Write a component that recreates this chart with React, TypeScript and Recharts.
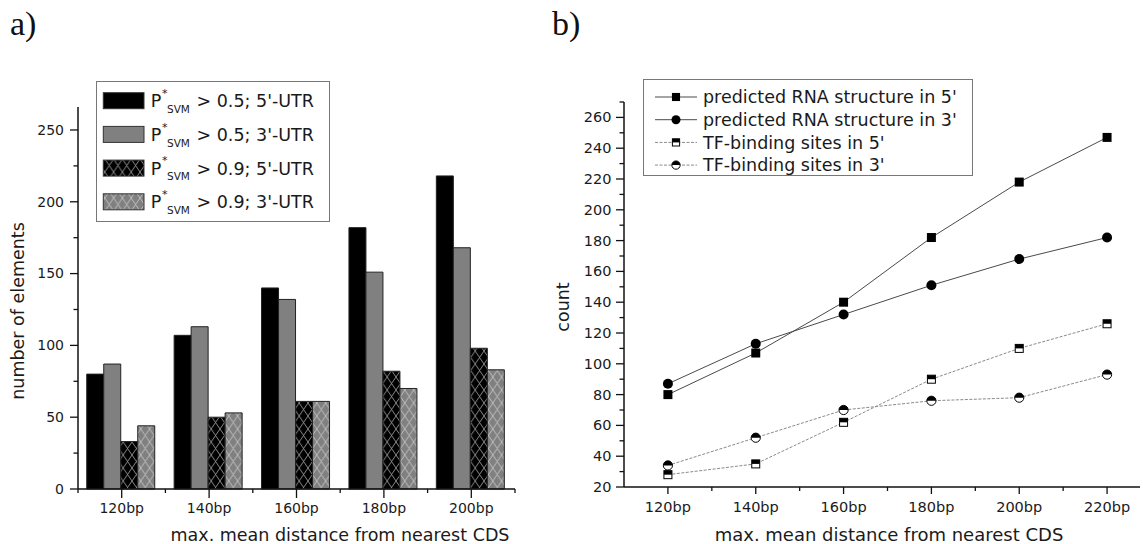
import React from 'react';
import { BarChart, Bar, XAxis, YAxis, LineChart, Line, Legend } from 'recharts';

const FONT = "'DejaVu Sans', 'Noto Sans', sans-serif";
const INK = '#1a1a1a';

// ---------- panel a) data ----------
const categories = ['120bp', '140bp', '160bp', '180bp', '200bp'];
const p05utr5 = [80, 107, 140, 182, 218];
const p05utr3 = [87, 113, 132, 151, 168];
const p09utr5 = [33, 50, 61, 82, 98];
const p09utr3 = [44, 53, 61, 70, 83];
const barThresholds = ['0.5', '0.5', '0.9', '0.9'];
const barRegions = ["5'-UTR", "3'-UTR", "5'-UTR", "3'-UTR"];
const leftYTicks = [0, 25, 50, 75, 100, 125, 150, 175, 200, 225, 250];

// ---------- panel b) data ----------
const distances = [120, 140, 160, 180, 200, 220];
const rna5 = [80, 107, 140, 182, 218, 247];
const rna3 = [87, 113, 132, 151, 168, 182];
const tf5 = [28, 35, 62, 90, 110, 126];
const tf3 = [34, 52, 70, 76, 78, 93];
const lineNames = [
  "predicted RNA structure in 5'",
  "predicted RNA structure in 3'",
  "TF-binding sites in 5'",
  "TF-binding sites in 3'",
];
const rightYTicks = [20, 30, 40, 50, 60, 70, 80, 90, 100, 110, 120, 130, 140, 150, 160, 170, 180, 190, 200, 210, 220, 230, 240, 250, 260, 270];
const rightXTicks = [120, 130, 140, 150, 160, 170, 180, 190, 200, 210, 220];

const barData = categories.map((c, i) => ({
  cat: c,
  a: p05utr5[i],
  b: p05utr3[i],
  c: p09utr5[i],
  d: p09utr3[i],
}));

const lineData = distances.map((d, i) => ({
  dist: d,
  rna5: rna5[i],
  rna3: rna3[i],
  tf5: tf5[i],
  tf3: tf3[i],
}));

const barKeys = ['a', 'b', 'c', 'd'];
const barFills = ['#000000', '#808080', 'url(#hatchBlack)', 'url(#hatchGray)'];
const lineKeys = ['rna5', 'rna3', 'tf5', 'tf3'];
const lineKinds = ['square', 'circle', 'halfSquare', 'halfCircle'];
const lineStrokes = ['#4a4a4a', '#4a4a4a', '#8a8a8a', '#8a8a8a'];
const lineDash = [undefined, undefined, '3 1.5', '3 1.5'];

// ---------- ticks ----------
const LY_SIZE = 8;
const LY_MARGIN = 6;
function LeftYTick(props: any) {
  const { x, y, payload } = props;
  const ax = x + LY_SIZE + LY_MARGIN;
  const major = payload.value % 50 === 0;
  return (
    <g>
      <line x1={ax - (major ? 8 : 4.5)} x2={ax} y1={y} y2={y} stroke="#111" strokeWidth={1.3} />
      {major && (
        <text x={x} y={y} dy="0.35em" textAnchor="end" fontSize={14} fill={INK} fontFamily={FONT}>
          {payload.value}
        </text>
      )}
    </g>
  );
}

const LX_SIZE = 8;
const LX_MARGIN = 4;
function LeftXTick(props: any) {
  const { x, y, payload, index, visibleTicksCount } = props;
  const ay = y - LX_SIZE - LX_MARGIN;
  const half = payload.offset ?? 0;
  return (
    <g>
      <line x1={x} x2={x} y1={ay} y2={ay + 9} stroke="#111" strokeWidth={1.3} />
      <line x1={x - half} x2={x - half} y1={ay} y2={ay + 4} stroke="#111" strokeWidth={1.3} />
      {index === visibleTicksCount - 1 && (
        <line x1={x + half} x2={x + half} y1={ay} y2={ay + 4} stroke="#111" strokeWidth={1.3} />
      )}
      <text x={x} y={ay + 19} dy="0.35em" textAnchor="middle" fontSize={14} fill={INK} fontFamily={FONT}>
        {payload.value}
      </text>
    </g>
  );
}

const RY_SIZE = 8;
const RY_MARGIN = 4.5;
function RightYTick(props: any) {
  const { x, y, payload } = props;
  const ax = x + RY_SIZE + RY_MARGIN;
  const major = payload.value % 20 === 0;
  return (
    <g>
      <line x1={ax - (major ? 8 : 4.5)} x2={ax} y1={y} y2={y} stroke="#111" strokeWidth={1.3} />
      {major && (
        <text x={x} y={y} dy="0.35em" textAnchor="end" fontSize={14.5} fill={INK} fontFamily={FONT}>
          {payload.value}
        </text>
      )}
    </g>
  );
}

const RX_SIZE = 7;
const RX_MARGIN = 4;
function RightXTick(props: any) {
  const { x, y, payload } = props;
  const ay = y - RX_SIZE - RX_MARGIN;
  const major = (payload.value - 120) % 20 === 0;
  return (
    <g>
      <line x1={x} x2={x} y1={ay} y2={ay + (major ? 7 : 4)} stroke="#111" strokeWidth={1.3} />
      {major && (
        <text x={x} y={ay + 19.5} dy="0.35em" textAnchor="middle" fontSize={14.5} fill={INK} fontFamily={FONT}>
          {payload.value + 'bp'}
        </text>
      )}
    </g>
  );
}

// ---------- markers ----------
function Marker({ kind, cx, cy, k = 1 }: { kind: string; cx: number; cy: number; k?: number }) {
  if (kind === 'square') {
    const s = 9 * k;
    return <rect x={cx - s / 2} y={cy - s / 2} width={s} height={s} fill="#000" />;
  }
  if (kind === 'circle') {
    return <circle cx={cx} cy={cy} r={5 * k} fill="#000" />;
  }
  if (kind === 'halfSquare') {
    const s = 8 * k;
    return (
      <g>
        <rect x={cx - s / 2} y={cy - s / 2} width={s} height={s} fill="#fff" stroke="#000" strokeWidth={1} />
        <rect x={cx - s / 2} y={cy - s / 2} width={s} height={s / 2} fill="#000" />
      </g>
    );
  }
  const r = 4.6 * k;
  return (
    <g>
      <circle cx={cx} cy={cy} r={r} fill="#fff" stroke="#000" strokeWidth={1} />
      <path d={`M${cx - r},${cy} A${r},${r} 0 0 1 ${cx + r},${cy} Z`} fill="#000" />
    </g>
  );
}

function makeDot(kind: string, id: string) {
  return (p: any) => {
    if (p.cx == null || p.cy == null) return <g key={`${id}-${p.index}`} />;
    return (
      <g key={`${id}-${p.index}`}>
        <Marker kind={kind} cx={p.cx} cy={p.cy} />
      </g>
    );
  };
}

// ---------- legends ----------
function LeftLegend() {
  const rowH = 33.7;
  return (
    <svg width={234} height={141} style={{ display: 'block' }}>
      <rect x={0.5} y={0.5} width={233} height={140} fill="#fff" stroke="#777" strokeWidth={1} />
      {barKeys.map((k, i) => {
        const off = i * rowH;
        return (
          <g key={k} fontFamily={FONT} fill={INK}>
            <rect x={7.3} y={11.7 + off} width={40.7} height={16} fill={barFills[i]} stroke="#333" strokeWidth={1} />
            <text x={54.7} y={26.3 + off} fontSize={17.5}>P</text>
            <text x={66} y={16 + off} fontSize={11}>*</text>
            <text x={71} y={32 + off} fontSize={10.5}>SVM</text>
            <text x={100.5} y={26.3 + off} fontSize={17.5}>{`> ${barThresholds[i]}; ${barRegions[i]}`}</text>
          </g>
        );
      })}
    </svg>
  );
}

function RightLegend() {
  const rowH = 22.7;
  return (
    <svg width={330} height={97} style={{ display: 'block' }}>
      <rect x={0.5} y={0.5} width={329} height={96} fill="#fff" stroke="#777" strokeWidth={1} />
      {lineKeys.map((k, i) => {
        const cy = 18 + i * rowH;
        return (
          <g key={k}>
            <line x1={12} x2={54} y1={cy} y2={cy} stroke={lineStrokes[i]} strokeWidth={1} strokeDasharray={lineDash[i]} />
            <Marker kind={lineKinds[i]} cx={33} cy={cy} k={0.9} />
            <text x={60} y={cy + 6.3} fontSize={17.5} fontFamily={FONT} fill={INK}>
              {lineNames[i]}
            </text>
          </g>
        );
      })}
    </svg>
  );
}

// ---------- axis titles ----------
function XTitle(dx: number, dy: number, size: number) {
  return (p: any) => {
    const vb = p.viewBox || { x: 0, y: 0, width: 0, height: 0 };
    return (
      <text x={vb.x + vb.width / 2 + dx} y={vb.y + dy} textAnchor="middle" fontSize={size} fill={INK} fontFamily={FONT}>
        max. mean distance from nearest CDS
      </text>
    );
  };
}

function YTitle(text: string, dx: number, dy: number) {
  return (p: any) => {
    const vb = p.viewBox || { x: 0, y: 0, width: 0, height: 0 };
    const cx = vb.x + dx;
    const cy = vb.y + vb.height / 2 + dy;
    return (
      <text
        x={cx}
        y={cy}
        transform={`rotate(-90, ${cx}, ${cy})`}
        textAnchor="middle"
        dominantBaseline="central"
        fontSize={17.5}
        fill={INK}
        fontFamily={FONT}
      >
        {text}
      </text>
    );
  };
}

const RIGHT_LEFT = 530;

export default function App() {
  return (
    <div
      style={{
        position: 'absolute',
        left: 0,
        top: 0,
        width: 1143,
        height: 544,
        background: '#fff',
        overflow: 'hidden',
      }}
    >
      <div style={{ position: 'absolute', left: 10, top: 4, fontFamily: "'Liberation Serif', serif", fontSize: 34, color: '#111', lineHeight: '40px' }}>
        a)
      </div>
      <div style={{ position: 'absolute', left: 552, top: 4, fontFamily: "'Liberation Serif', serif", fontSize: 34, color: '#111', lineHeight: '40px' }}>
        b)
      </div>

      <div style={{ position: 'absolute', left: 0, top: 0 }}>
        <BarChart
          width={525}
          height={544}
          data={barData}
          margin={{ top: 107, right: 10, bottom: 25, left: 18 }}
          barGap={0}
          barCategoryGap="10%"
        >
          <defs>
            <pattern id="hatchBlack" patternUnits="userSpaceOnUse" width={8.8} height={13}>
              <rect width={8.8} height={13} fill="#000" />
              <path d="M0,0 L8.8,13 M8.8,0 L0,13" stroke="#9a9a9a" strokeWidth={0.9} />
            </pattern>
            <pattern id="hatchGray" patternUnits="userSpaceOnUse" width={8.8} height={13}>
              <rect width={8.8} height={13} fill="#808080" />
              <path d="M0,0 L8.8,13 M8.8,0 L0,13" stroke="#c4c4c4" strokeWidth={0.9} />
            </pattern>
          </defs>
          <XAxis
            dataKey="cat"
            height={30}
            tickSize={LX_SIZE}
            tickMargin={LX_MARGIN}
            tickLine={false}
            tick={<LeftXTick />}
            axisLine={{ stroke: '#111', strokeWidth: 1.5 }}
            interval={0}
            label={{ content: XTitle(43.5, 52, 17.5) }}
          />
          <YAxis
            width={60}
            domain={[0, 266]}
            ticks={leftYTicks}
            interval={0}
            tickSize={LY_SIZE}
            tickMargin={LY_MARGIN}
            tickLine={false}
            tick={<LeftYTick />}
            axisLine={{ stroke: '#111', strokeWidth: 1.5 }}
            label={{ content: YTitle('number of elements', 0, 13) }}
          />
          {barKeys.map((k, i) => (
            <Bar key={k} dataKey={k} fill={barFills[i]} stroke="#222" strokeWidth={1} isAnimationActive={false} />
          ))}
          <Legend
            layout="vertical"
            align="center"
            verticalAlign="middle"
            content={() => <LeftLegend />}
            wrapperStyle={{ left: 96, top: 81, width: 234, height: 141 }}
          />
        </BarChart>
      </div>

      <div style={{ position: 'absolute', left: RIGHT_LEFT, top: 0 }}>
        <LineChart
          width={1143 - RIGHT_LEFT}
          height={544}
          data={lineData}
          margin={{ top: 102, right: 3, bottom: 27, left: 624 - RIGHT_LEFT - 50 }}
        >
          <XAxis
            dataKey="dist"
            type="number"
            domain={[110, 227.5]}
            ticks={rightXTicks}
            interval={0}
            height={30}
            tickSize={RX_SIZE}
            tickMargin={RX_MARGIN}
            tickLine={false}
            tick={<RightXTick />}
            axisLine={{ stroke: '#111', strokeWidth: 1.5 }}
            label={{ content: XTitle(7, 54, 18) }}
          />
          <YAxis
            width={50}
            domain={[20, 270]}
            ticks={rightYTicks}
            interval={0}
            tickSize={RY_SIZE}
            tickMargin={RY_MARGIN}
            tickLine={false}
            tick={<RightYTick />}
            axisLine={{ stroke: '#111', strokeWidth: 1.5 }}
            label={{ content: YTitle('count', -11, 12.5) }}
          />
          {lineKeys.map((k, i) => (
            <Line
              key={k}
              dataKey={k}
              stroke={lineStrokes[i]}
              strokeWidth={1}
              strokeDasharray={lineDash[i]}
              dot={makeDot(lineKinds[i], k)}
              activeDot={false}
              isAnimationActive={false}
            />
          ))}
          <Legend
            layout="vertical"
            align="center"
            verticalAlign="middle"
            content={() => <RightLegend />}
            wrapperStyle={{ left: 643 - RIGHT_LEFT, top: 79, width: 330, height: 97 }}
          />
        </LineChart>
      </div>
    </div>
  );
}
